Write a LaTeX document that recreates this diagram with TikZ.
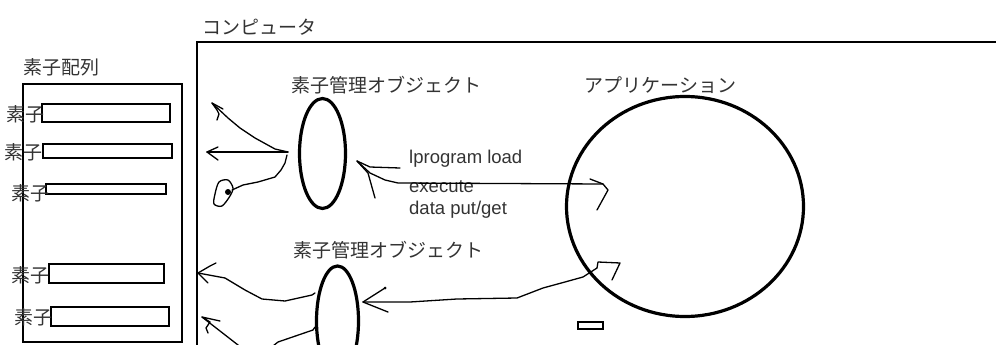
\documentclass[tikz,border=0pt]{standalone}
\usepackage{fontspec}
\setmainfont{Liberation Sans}
\newfontfamily\jpfont{Noto Sans CJK JP}
\usetikzlibrary{shapes.geometric}
\begin{document}
\begin{tikzpicture}[x=1pt,y=-1pt,
  jp/.style={font=\jpfont\fontsize{19}{19}\selectfont, text=black!80, inner sep=0pt},
  en/.style={font=\fontsize{18.5}{18.5}\selectfont, text=black!80, inner sep=0pt, anchor=west},
  bar/.style={draw, line width=2pt, inner sep=0pt},
  sketch/.style={line width=1.3pt, line join=round, line cap=round},
  obj/.style={draw, ellipse, line width=3.2pt, inner sep=0pt}]
\useasboundingbox (0,0) rectangle (996,345);
\clip (0,0) rectangle (996,345);

% element array
\node[jp] (arraylabel) at (61.5,67) {素子配列};
\node[bar, minimum width=159pt, minimum height=258pt] (array) at (102.5,213) {};
\node[bar, minimum width=128pt, minimum height=18pt] (b1) at (106,113) {};
\node[bar, minimum width=129pt, minimum height=14pt] (b2) at (107.5,151) {};
\node[bar, minimum width=120pt, minimum height=10pt] (b3) at (106,189) {};
\node[bar, minimum width=115pt, minimum height=19pt] (b4) at (106.5,273.5) {};
\node[bar, minimum width=118pt, minimum height=19pt] (b5) at (110,316.5) {};
\node[jp, anchor=west] (l1) at (6,114) {素子};
\node[jp, anchor=west] (l2) at (4,152) {素子};
\node[jp, anchor=west] (l3) at (11,193) {素子};
\node[jp, anchor=west] (l4) at (11,275) {素子};
\node[jp, anchor=west] (l5) at (14,317) {素子};

% computer
\node[jp] (complabel) at (259,27) {コンピュータ};
\draw[line width=2pt] (197,42) rectangle (1010,400);

% element manager objects
\node[jp] (m1label) at (386,85) {素子管理オブジェクト};
\node[obj, minimum width=46pt, minimum height=110pt] (m1) at (322.5,153.5) {};
\node[jp] (m2label) at (388.5,250) {素子管理オブジェクト};
\node[obj, minimum width=42pt, minimum height=110pt] (m2) at (337.5,321) {};

% application
\node[jp] (applabel) at (660.5,85) {アプリケーション};
\node[obj, minimum width=237pt, minimum height=220pt] (app) at (685,206.5) {};
\node[draw, line width=2pt, inner sep=0pt, minimum width=25pt, minimum height=7pt] (small) at (590.5,325.5) {};

% command text
\node[en] (t1) at (409,159) {lprogram load};
\node[en] (t2) at (409,187) {execute};
\node[en] (t3) at (409,210) {data put/get};

% coordinates of sketch ends
\coordinate (m1out) at (288,152);
\coordinate (tipA) at (212,103);
\coordinate (tipB) at (207,152);
\coordinate (tipC) at (232,190);
\coordinate (m1in) at (357,161);
\coordinate (appin1) at (603,184);
\coordinate (m2in) at (363,302);
\coordinate (appin2) at (597,268);
\coordinate (m2outA) at (315,293);
\coordinate (m2outB) at (315,327);
\coordinate (tipD) at (198,273);
\coordinate (tipE) at (202,317);

% arrows from manager 1 to elements
\draw[sketch] (m1out) -- (275,149) -- (255,138) -- (240,128) -- (228,118) -- (tipA);
\draw[sketch] (tipA) -- (223,109) (tipA) -- (217,110) -- (219,114) -- (217,120);
\draw[sketch] (m1out) -- (tipB);
\draw[sketch] (tipB) -- (218,147) (tipB) -- (218,160);
\draw[sketch] (287,155) -- (285,163) -- (281,170) -- (275,177) -- (258,182) -- (243,185) -- (tipC);
\draw[sketch] plot[smooth cycle] coordinates {(233,188) (228,180) (219,182) (215,194) (214,204) (222,206) (230,196)};
\fill (228,192) circle[radius=3pt];

% arrow from application to manager 1
\draw[sketch] (appin1) -- (398,183) -- (385,180) -- (370,173) -- (m1in);
\draw[sketch] (m1in) -- (370,167) -- (400,168);
\draw[sketch] (m1in) -- (368,173) -- (375,198);
\draw[sketch] (590,179) -- (appin1) -- (608,190) -- (597,210);

% arrow from application to manager 2
\draw[sketch] (m2in) -- (410,302) -- (457,299) -- (517,298) -- (530,293) -- (543,288) -- (565,282) -- (583,277) -- (appin2);
\draw[sketch] (appin2) -- (598,262) -- (620,263) -- (612,280);
\draw[sketch] (m2in) -- (385,288) (m2in) -- (388,312);
\fill (385,288) circle[radius=1.5pt];

% arrows from manager 2 to elements
\draw[sketch] (m2outA) -- (312,295) -- (285,301) -- (262,299) -- (245,290) -- (225,278) -- (tipD);
\draw[sketch] (tipD) -- (210,266) -- (216,263) (tipD) -- (208,283);
\draw[sketch] (m2outB) -- (313,330) -- (278,342) -- (268,350) -- (245,352) -- (238,345) -- (tipE);
\draw[sketch] (tipE) -- (220,321) (tipE) -- (210,322) -- (206,328) -- (208,333);
\end{tikzpicture}
\end{document}
